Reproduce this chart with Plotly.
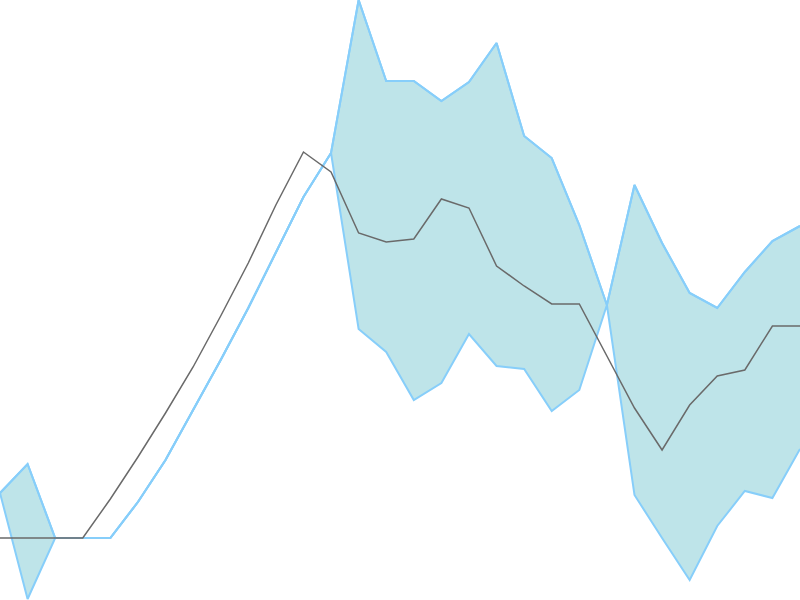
import plotly.graph_objects as go

# step index along x
steps = list(range(30))

# band edges and the centre line
band_upper = [107, 136, 62, 62, 62, 98, 140, 190, 240, 292, 348, 403, 447, 600, 519,
              519, 499, 518, 557, 464, 442, 375, 295, 415, 357, 307, 292, 328, 359, 374]
band_lower = [107, 1, 62, 62, 62, 98, 140, 190, 240, 292, 348, 403, 447, 271, 248,
              200, 217, 266, 234, 231, 189, 210, 295, 105, 62, 20, 74, 109, 102, 151]
centre = [62, 62, 62, 62, 101, 143, 187, 233, 284, 337, 395, 448, 428, 367, 358,
          361, 401, 392, 334, 314, 296, 296, 244, 192, 150, 195, 224, 230, 274, 274]

edge_color = '#87CEFA'
fill_color = 'rgb(190,228,233)'

fig = go.Figure()

fig.add_trace(go.Scatter(
    x=steps, y=band_upper, mode='lines',
    line=dict(color=edge_color, width=2),
    hoverinfo='skip', showlegend=False
))
fig.add_trace(go.Scatter(
    x=steps, y=band_lower, mode='lines',
    line=dict(color=edge_color, width=2),
    fill='tonexty', fillcolor=fill_color,
    hoverinfo='skip', showlegend=False
))
# redraw the edges over the fill
fig.add_trace(go.Scatter(
    x=steps, y=band_upper, mode='lines',
    line=dict(color=edge_color, width=2),
    hoverinfo='skip', showlegend=False
))
fig.add_trace(go.Scatter(
    x=steps, y=centre, mode='lines',
    line=dict(color='#6a6a6a', width=1.5),
    showlegend=False
))

fig.update_layout(
    width=800, height=600,
    margin=dict(l=0, r=0, t=0, b=0),
    paper_bgcolor='white', plot_bgcolor='white',
    xaxis=dict(visible=False, range=[0, 29]),
    yaxis=dict(visible=False, range=[0, 600]),
)

# drop the page's default body margin so the plot sits at 0,0
fig.write_html(
    "out.html",
    config={'displayModeBar': False},
    post_script="document.body.style.margin='0';document.body.style.overflow='hidden';"
)
